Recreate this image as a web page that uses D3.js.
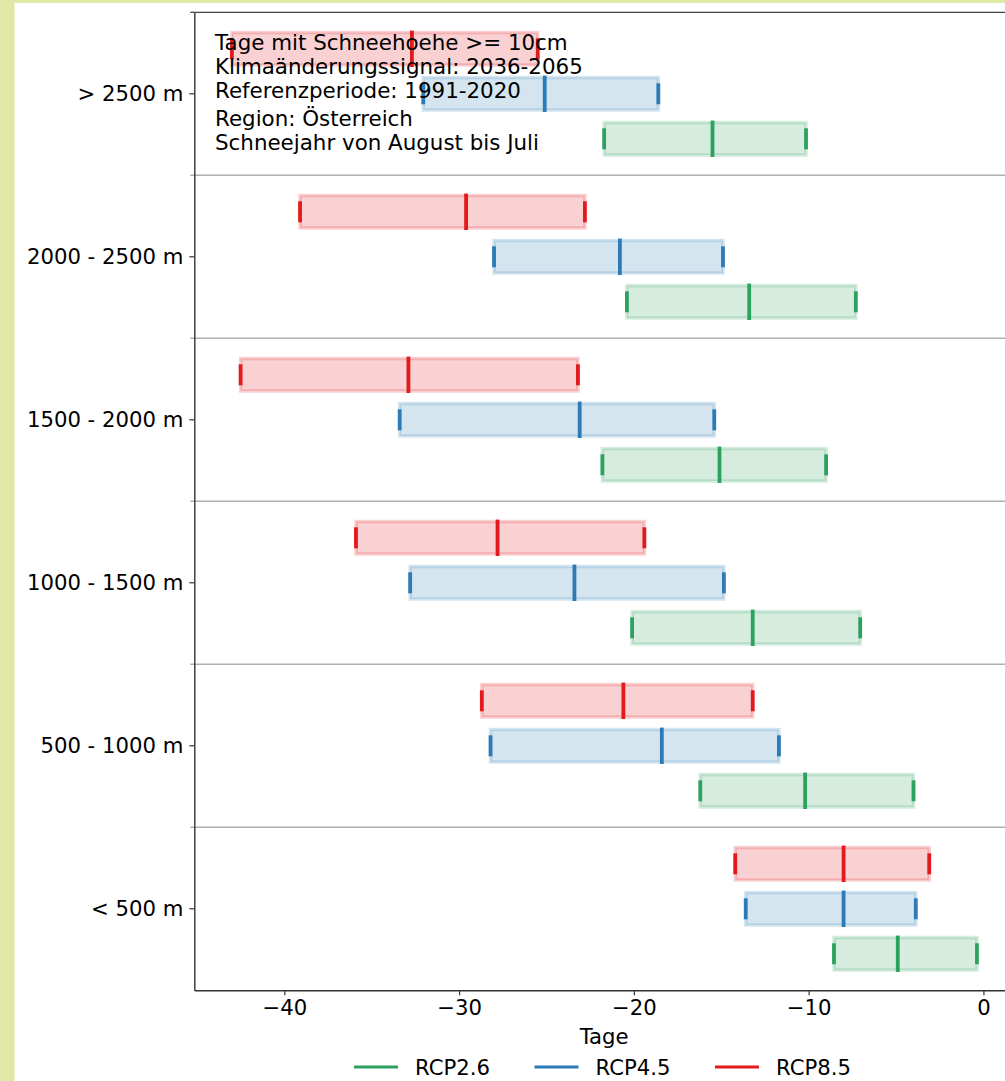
<!DOCTYPE html>
<html>
<head>
<meta charset="utf-8">
<script src="https://cdn.jsdelivr.net/npm/d3@7"></script>
<style>
  body { margin: 0; background: #fff; }
  svg { display: block; }
  svg text { font-family: "DejaVu Sans", sans-serif; }
</style>
</head>
<body>
<div id="chart"></div>
<script>
// elevation bands, top to bottom
const categories = ["> 2500 m", "2000 - 2500 m", "1500 - 2000 m", "1000 - 1500 m", "500 - 1000 m", "< 500 m"];
const series = ["RCP2.6", "RCP4.5", "RCP8.5"];
const xTicks = [-40, -30, -20, -10, 0];

// change in days (min / median / max) per band
const rcp26Min = [-21.7, -20.4, -21.8, -20.1, -16.2, -8.55];
const rcp26Med = [-15.5, -13.4, -15.1, -13.2, -10.2, -4.9];
const rcp26Max = [-10.15, -7.3, -9.0, -7.05, -4.0, -0.37];
const rcp45Min = [-32.05, -28.0, -33.4, -32.8, -28.2, -13.6];
const rcp45Med = [-25.1, -20.8, -23.1, -23.4, -18.4, -8.0];
const rcp45Max = [-18.6, -14.9, -15.4, -14.85, -11.7, -3.87];
const rcp85Min = [-43.0, -39.1, -42.5, -35.9, -28.7, -14.2];
const rcp85Med = [-32.7, -29.6, -32.9, -27.8, -20.6, -8.0];
const rcp85Max = [-25.5, -22.8, -23.2, -19.4, -13.2, -3.1];

const infoLines1 = ["Tage mit Schneehoehe >= 10cm", "Klimaänderungssignal: 2036-2065", "Referenzperiode: 1991-2020"];
const infoLines2 = ["Region: Österreich", "Schneejahr von August bis Juli"];

const colors = { "RCP2.6": "#2ca25f", "RCP4.5": "#2c7bb6", "RCP8.5": "#e31a1c" };

const W = 1005, H = 1081;
const plot = { left: 194.3, top: 12.3, bottom: 990.3, right: 1014 };
const fs = "21.2px";

const svg = d3.select("#chart").append("svg")
    .attr("width", W)
    .attr("height", H);

// page frame strips
svg.append("rect").attr("x", 0).attr("y", 0).attr("width", 14.5).attr("height", H).attr("fill", "#e1e8a6");
svg.append("rect").attr("x", 0).attr("y", 0).attr("width", W).attr("height", 3).attr("fill", "#e1e8a6");

const x = d3.scaleLinear()
    .domain([-45.15, 1.75])
    .range([plot.left, plot.right]);

const y = d3.scaleBand()
    .domain(categories)
    .range([plot.top, plot.bottom])
    .padding(0);

// offset of each scenario inside a band
const yOff = d3.scalePoint()
    .domain(["RCP8.5", "RCP4.5", "RCP2.6"])
    .range([-45, 45]);

// build rows
const rows = [];
categories.forEach((c, i) => {
    rows.push({ cat: c, s: "RCP2.6", min: rcp26Min[i], med: rcp26Med[i], max: rcp26Max[i] });
    rows.push({ cat: c, s: "RCP4.5", min: rcp45Min[i], med: rcp45Med[i], max: rcp45Max[i] });
    rows.push({ cat: c, s: "RCP8.5", min: rcp85Min[i], med: rcp85Med[i], max: rcp85Max[i] });
});

// separators between bands (with little tick outside)
const bounds = categories.slice(1).map(c => y(c));
svg.append("g").selectAll("line")
    .data(bounds)
    .enter().append("line")
    .attr("x1", plot.left - 4).attr("x2", plot.right)
    .attr("y1", d => d).attr("y2", d => d)
    .attr("stroke", "#b0b0b0")
    .attr("stroke-width", 1.5);
svg.append("line")
    .attr("x1", plot.left - 4).attr("x2", plot.left)
    .attr("y1", plot.top).attr("y2", plot.top)
    .attr("stroke", "#444").attr("stroke-width", 1.3);

const cy = d => y(d.cat) + y.bandwidth() / 2 + yOff(d.s);
const barH = 32.5;

const g = svg.append("g");
g.selectAll("rect.box")
    .data(rows)
    .enter().append("rect")
    .attr("class", "box")
    .attr("x", d => x(d.min))
    .attr("width", d => x(d.max) - x(d.min))
    .attr("y", d => cy(d) - barH / 2)
    .attr("height", barH)
    .attr("fill", d => colors[d.s])
    .attr("fill-opacity", 0.2)
    .attr("stroke", d => colors[d.s])
    .attr("stroke-opacity", 0.2)
    .attr("stroke-width", 3.5);

// end markers
["min", "max"].forEach(k => {
    g.selectAll("line.m" + k)
        .data(rows)
        .enter().append("line")
        .attr("class", "m" + k)
        .attr("x1", d => x(d[k])).attr("x2", d => x(d[k]))
        .attr("y1", d => cy(d) - 10.5).attr("y2", d => cy(d) + 10.5)
        .attr("stroke", d => colors[d.s])
        .attr("stroke-width", 3.8);
});
// median
g.selectAll("line.med")
    .data(rows)
    .enter().append("line")
    .attr("class", "med")
    .attr("x1", d => x(d.med)).attr("x2", d => x(d.med))
    .attr("y1", d => cy(d) - 18.2).attr("y2", d => cy(d) + 18.2)
    .attr("stroke", d => colors[d.s])
    .attr("stroke-width", 3.8);

// top spine
svg.append("line")
    .attr("x1", plot.left).attr("x2", plot.right)
    .attr("y1", plot.top).attr("y2", plot.top)
    .attr("stroke", "#444").attr("stroke-width", 1.3);

// y axis
const yAxis = svg.append("g")
    .attr("transform", "translate(" + plot.left + ",0)")
    .call(d3.axisLeft(y).tickSize(5).tickSizeOuter(0).tickPadding(6));
yAxis.attr("font-family", null).attr("font-size", null);
yAxis.select(".domain").attr("stroke", "#333").attr("stroke-width", 1.4);
yAxis.selectAll(".tick line").attr("stroke", "#333").attr("stroke-width", 1.2);
yAxis.selectAll("text")
    .style("font-size", fs)
    .attr("fill", "#000");

// x axis
const xAxis = svg.append("g")
    .attr("transform", "translate(0," + plot.bottom + ")")
    .call(d3.axisBottom(x).tickValues(xTicks).tickSize(5).tickSizeOuter(0).tickPadding(5)
        .tickFormat(d => d < 0 ? "\u2212" + Math.abs(d) : String(d)));
xAxis.attr("font-family", null).attr("font-size", null);
xAxis.select(".domain").attr("stroke", "#333").attr("stroke-width", 1.4);
xAxis.selectAll(".tick line").attr("stroke", "#333").attr("stroke-width", 1.2);
xAxis.selectAll("text")
    .style("font-size", fs)
    .attr("fill", "#000");

// x label
svg.append("text")
    .attr("x", (plot.left + plot.right) / 2)
    .attr("y", 1044)
    .attr("text-anchor", "middle")
    .style("font-size", fs)
    .text("Tage");

// info text
const info = svg.append("g").style("font-size", "21.4px");
infoLines1.forEach((t, i) => {
    info.append("text").attr("x", 215).attr("y", 50 + i * 24).text(t);
});
infoLines2.forEach((t, i) => {
    info.append("text").attr("x", 215).attr("y", 126 + i * 24).text(t);
});

// legend
const lx = d3.scalePoint().domain(series).range([354, 715]);
const leg = svg.append("g").selectAll("g")
    .data(series)
    .enter().append("g")
    .attr("transform", d => "translate(" + lx(d) + ",1067)");
leg.append("line")
    .attr("x1", 0).attr("x2", 44)
    .attr("stroke", d => colors[d])
    .attr("stroke-width", 3);
leg.append("text")
    .attr("x", 61)
    .attr("dy", "0.36em")
    .style("font-size", fs)
    .text(d => d);
</script>
</body>
</html>
